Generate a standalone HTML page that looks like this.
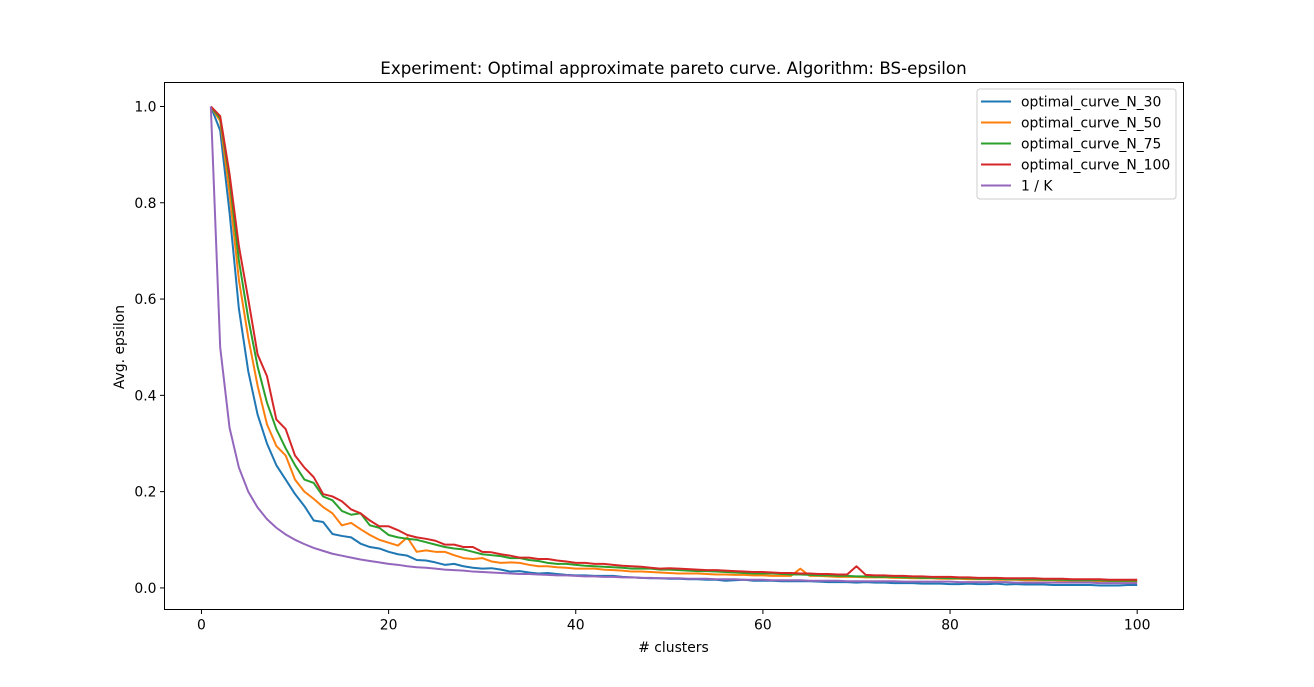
<!DOCTYPE html>
<html><head><meta charset="utf-8"><style>
html,body{margin:0;padding:0;background:#fff;}
svg{display:block;font-family:"DejaVu Sans","Liberation Sans",sans-serif;}
</style></head><body>
<svg id="chart" width="1314" height="687" viewBox="0 0 1314 687" xmlns="http://www.w3.org/2000/svg">
<rect width="1314" height="687" fill="#fff"/>
<text x="673.5" y="74" font-size="16.7" text-anchor="middle" fill="#000">Experiment: Optimal approximate pareto curve. Algorithm: BS-epsilon</text>
<g id="plot"></g>
<rect x="164.5" y="82.5" width="1019" height="527" fill="none" stroke="#000" stroke-width="1"/>
<g id="axes"></g>
<text x="673.5" y="652" font-size="13.9" text-anchor="middle">&#35; clusters</text>
<text transform="translate(124,347) rotate(-90)" font-size="13.9" text-anchor="middle">Avg. epsilon</text>
<g id="legend"></g>
</svg>
<script>
const n30=[1.0,0.95,0.78,0.58,0.45,0.36,0.30,0.255,0.225,0.195,
0.17,0.14,0.137,0.112,0.108,0.105,0.092,0.085,0.082,0.075,
0.07,0.067,0.058,0.057,0.053,0.048,0.05,0.045,0.042,0.04,
0.041,0.038,0.034,0.035,0.032,0.03,0.031,0.029,0.027,0.026,
0.026,0.025,0.025,0.025,0.023,0.022,0.021,0.02,0.02,0.019,
0.019,0.018,0.018,0.017,0.017,0.015,0.016,0.017,0.015,0.015,
0.015,0.014,0.014,0.014,0.014,0.013,0.012,0.012,0.012,0.011,
0.012,0.011,0.011,0.01,0.01,0.01,0.009,0.009,0.009,0.008,
0.008,0.009,0.008,0.008,0.009,0.007,0.008,0.007,0.007,0.007,
0.006,0.006,0.006,0.006,0.006,0.005,0.005,0.005,0.006,0.006];
const n50=[1.0,0.97,0.82,0.64,0.52,0.42,0.34,0.295,0.275,0.225,
0.2,0.185,0.168,0.155,0.13,0.135,0.122,0.11,0.1,0.094,
0.088,0.105,0.075,0.078,0.075,0.075,0.068,0.062,0.06,0.062,
0.055,0.052,0.053,0.052,0.048,0.045,0.045,0.043,0.042,0.04,
0.04,0.04,0.038,0.037,0.036,0.034,0.034,0.033,0.032,0.031,
0.03,0.03,0.03,0.029,0.028,0.028,0.027,0.027,0.026,0.026,
0.025,0.025,0.025,0.04,0.025,0.025,0.024,0.023,0.023,0.023,
0.022,0.022,0.022,0.021,0.021,0.02,0.02,0.02,0.019,0.019,
0.019,0.018,0.018,0.018,0.017,0.017,0.017,0.016,0.016,0.016,
0.016,0.015,0.015,0.015,0.015,0.014,0.014,0.014,0.014,0.013];
const n75=[1.0,0.975,0.85,0.68,0.56,0.46,0.385,0.33,0.29,0.255,
0.225,0.218,0.19,0.182,0.16,0.152,0.155,0.13,0.125,0.11,
0.105,0.102,0.1,0.095,0.09,0.085,0.082,0.08,0.075,0.07,
0.068,0.066,0.062,0.062,0.058,0.056,0.052,0.05,0.05,0.048,
0.046,0.045,0.044,0.043,0.042,0.04,0.04,0.04,0.038,0.038,
0.037,0.036,0.035,0.035,0.034,0.033,0.032,0.031,0.03,0.03,
0.03,0.029,0.028,0.028,0.027,0.026,0.026,0.025,0.025,0.024,
0.024,0.023,0.023,0.023,0.022,0.022,0.021,0.021,0.021,0.02,
0.02,0.02,0.019,0.019,0.019,0.018,0.018,0.018,0.018,0.017,
0.017,0.017,0.016,0.016,0.016,0.016,0.015,0.015,0.015,0.015];
const n100=[1.0,0.98,0.86,0.71,0.6,0.485,0.44,0.35,0.33,0.275,
0.25,0.23,0.195,0.19,0.18,0.163,0.155,0.14,0.128,0.128,
0.12,0.11,0.105,0.102,0.098,0.09,0.09,0.085,0.085,0.075,
0.074,0.07,0.067,0.063,0.063,0.06,0.06,0.057,0.055,0.052,
0.052,0.05,0.05,0.048,0.046,0.045,0.044,0.042,0.04,0.041,
0.04,0.039,0.038,0.037,0.037,0.036,0.035,0.034,0.033,0.033,
0.032,0.031,0.031,0.03,0.03,0.029,0.029,0.028,0.028,0.045,
0.027,0.026,0.026,0.025,0.025,0.024,0.024,0.023,0.023,0.023,
0.022,0.022,0.021,0.021,0.021,0.02,0.02,0.02,0.02,0.019,
0.019,0.019,0.018,0.018,0.018,0.018,0.017,0.017,0.017,0.017];
const invK=[1.0,0.5,0.333,0.25,0.2,0.167,0.143,0.125,0.111,0.1,
0.091,0.083,0.077,0.071,0.067,0.063,0.059,0.056,0.053,0.05,
0.048,0.045,0.043,0.042,0.04,0.038,0.037,0.036,0.034,0.033,
0.032,0.031,0.03,0.029,0.029,0.028,0.027,0.026,0.026,0.025,
0.024,0.024,0.023,0.023,0.022,0.022,0.021,0.021,0.02,0.02,
0.02,0.019,0.019,0.019,0.018,0.018,0.018,0.017,0.017,0.017,
0.016,0.016,0.016,0.016,0.015,0.015,0.015,0.015,0.014,0.014,
0.014,0.014,0.014,0.014,0.013,0.013,0.013,0.013,0.013,0.013,
0.012,0.012,0.012,0.012,0.012,0.012,0.011,0.011,0.011,0.011,
0.011,0.011,0.011,0.011,0.011,0.01,0.01,0.01,0.01,0.01];
const seriesNames=["optimal_curve_N_30","optimal_curve_N_50","optimal_curve_N_75","optimal_curve_N_100","1 / K"];
const xTicks=[0,20,40,60,80,100];
const yTicks=[0.0,0.2,0.4,0.6,0.8,1.0];
const yTickLabels=["0.0","0.2","0.4","0.6","0.8","1.0"];

const L=164.5,R=1183.5,T=82.5,B=609.5;
const xMin=-3.95,xMax=104.95,yMin=-0.0448,yMax=1.0498;
function xs(v){return L+(v-xMin)/(xMax-xMin)*(R-L);}
function ys(v){return B-(v-yMin)/(yMax-yMin)*(B-T);}
const NS="http://www.w3.org/2000/svg";
const colors=["#1f77b4","#ff7f0e","#2ca02c","#d62728","#9467bd"];
const allSeries=[n30,n50,n75,n100,invK];
const plot=document.getElementById('plot');
const lineNames=['line-n30','line-n50','line-n75','line-n100','line-inverse-k'];
allSeries.forEach((s,i)=>{
  const p=document.createElementNS(NS,'polyline');
  
  
  p.setAttribute('points',s.map((v,k)=>xs(k+1).toFixed(2)+','+ys(v).toFixed(2)).join(' '));
  p.setAttribute('fill','none');p.setAttribute('stroke',colors[i]);
  p.setAttribute('stroke-width','2');p.setAttribute('stroke-linejoin','round');
  plot.appendChild(p);
});
const axes=document.getElementById('axes');
xTicks.forEach(t=>{
  const l=document.createElementNS(NS,'line');
  
  
  l.setAttribute('x1',xs(t));l.setAttribute('x2',xs(t));l.setAttribute('y1',B);l.setAttribute('y2',B+4.5);
  l.setAttribute('stroke','#000');axes.appendChild(l);
  const tx=document.createElementNS(NS,'text');
  
  
  tx.setAttribute('x',xs(t));tx.setAttribute('y',B+20);tx.setAttribute('font-size','13.9');
  tx.setAttribute('text-anchor','middle');tx.textContent=String(t);axes.appendChild(tx);
});
yTicks.forEach((t,i)=>{
  const l=document.createElementNS(NS,'line');
  
  
  l.setAttribute('x1',L-4.5);l.setAttribute('x2',L);l.setAttribute('y1',ys(t));l.setAttribute('y2',ys(t));
  l.setAttribute('stroke','#000');axes.appendChild(l);
  const tx=document.createElementNS(NS,'text');
  
  
  tx.setAttribute('x',L-8);tx.setAttribute('y',ys(t)+5);tx.setAttribute('font-size','13.9');
  tx.setAttribute('text-anchor','end');tx.textContent=yTickLabels[i];axes.appendChild(tx);
});
const lg=document.getElementById('legend');
const box=document.createElementNS(NS,'rect');


box.setAttribute('x',977);box.setAttribute('y',89);box.setAttribute('width',199);box.setAttribute('height',110);
box.setAttribute('rx',3);box.setAttribute('fill','#fff');box.setAttribute('fill-opacity','0.8');box.setAttribute('stroke','#ccc');
lg.appendChild(box);
seriesNames.forEach((nm,i)=>{
  const y=101.5+i*21;
  const l=document.createElementNS(NS,'line');
  
  
  l.setAttribute('x1',981);l.setAttribute('x2',1011);l.setAttribute('y1',y);l.setAttribute('y2',y);
  l.setAttribute('stroke',colors[i]);l.setAttribute('stroke-width','2');lg.appendChild(l);
  const tx=document.createElementNS(NS,'text');
  
  
  tx.setAttribute('x',1021);tx.setAttribute('y',y+5);tx.setAttribute('font-size','13.9');
  tx.textContent=nm;lg.appendChild(tx);
});
</script>
</body></html>
